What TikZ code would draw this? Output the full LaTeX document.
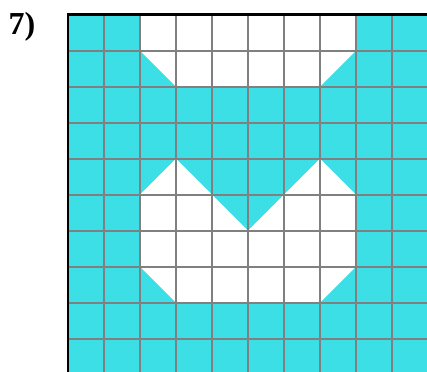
\documentclass[tikz,border=0pt]{standalone}
\usepackage{fontspec}
\setmainfont{Liberation Serif}
\definecolor{tealfill}{RGB}{60,223,230}
\definecolor{gridgray}{RGB}{128,128,128}
\tikzset{
  cellfill/.style={fill=tealfill},
  holefill/.style={fill=white},
  gridline/.style={draw=gridgray, line width=2pt, step=36pt},
  frameline/.style={draw=black, line width=2.6pt},
  labeltext/.style={font=\bfseries\fontsize{32}{32}\selectfont, anchor=base west, inner sep=0pt}
}
\begin{document}
\begin{tikzpicture}[x=1pt,y=-1pt]
\useasboundingbox (0,0) rectangle (427,371);
\node[labeltext] (label) at (8.5,35) {7)};
\begin{scope}[xshift=68pt,yshift=-14.7pt,x=36pt,y=-36pt]
\fill[cellfill] (0,0) rectangle (10,10);
\fill[holefill] (2,0) -- (8,0) -- (8,1) -- (7,2) -- (3,2) -- (2,1) -- cycle;
\fill[holefill] (2,5) -- (3,4) -- (4,5) -- (5,6) -- (6,5) -- (7,4) -- (8,5) -- (8,7) -- (7,8) -- (3,8) -- (2,7) -- cycle;
\draw[gridline] (0,0) grid (10,10);
\draw[frameline] (0,0) rectangle (10,10);
\end{scope}
\end{tikzpicture}
\end{document}
